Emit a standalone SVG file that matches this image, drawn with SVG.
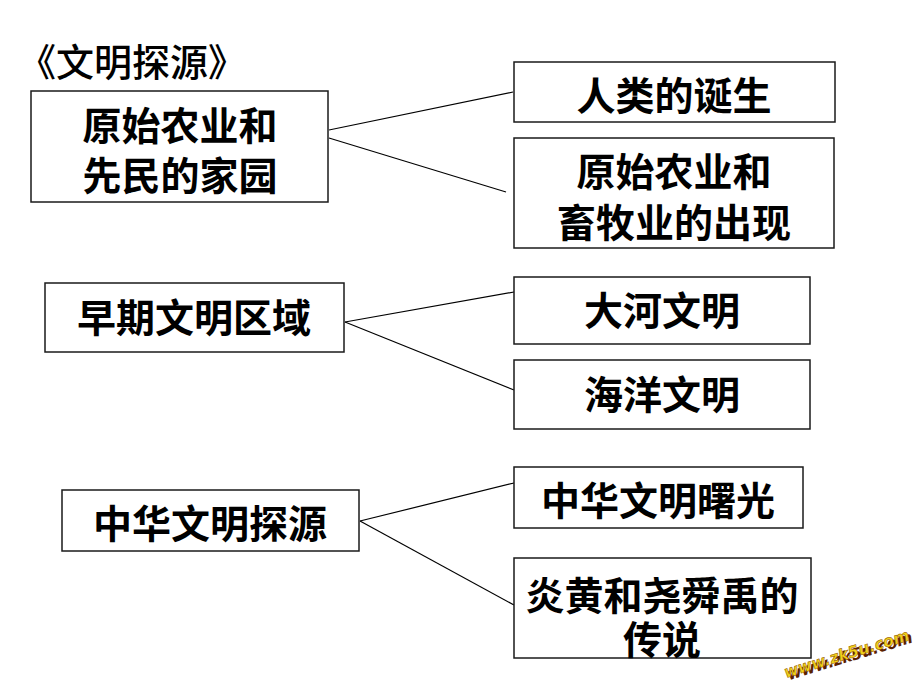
<svg xmlns="http://www.w3.org/2000/svg" width="920" height="690" viewBox="0 0 920 690">
<style>
.box{fill:#fff;stroke:#1a1a1a;stroke-width:1.5}
.t{font-family:"Noto Sans CJK SC","Noto Sans CJK TC",sans-serif;font-size:39px;font-weight:bold;fill:#000;text-anchor:middle;dominant-baseline:central}
.title{font-family:"Noto Sans CJK SC",sans-serif;font-size:38px;font-weight:500;fill:#000;dominant-baseline:central}
.c{stroke:#000;stroke-width:1.2;fill:none}
.wm{font-family:"DejaVu Sans",sans-serif;font-size:16px;font-weight:bold;font-style:italic}
</style>
<rect width="920" height="690" fill="#fff"/>
<text class="title" x="18" y="59">《文明探源》</text>
<g id="connectors">
<line class="c" x1="329" y1="130" x2="513" y2="92"/>
<line class="c" x1="329" y1="138" x2="506" y2="192"/>
<line class="c" x1="345" y1="322" x2="514" y2="292"/>
<line class="c" x1="345" y1="322" x2="514" y2="390"/>
<line class="c" x1="360" y1="521" x2="514" y2="483"/>
<line class="c" x1="360" y1="521" x2="514" y2="605"/>
</g>
<g id="n1"><rect class="box" x="31" y="91" width="297" height="111"/>
<text class="t" x="180" y="123">原始农业和</text><text class="t" x="180" y="173">先民的家园</text></g>
<g id="n2"><rect class="box" x="514" y="62" width="321" height="60"/>
<text class="t" x="674" y="93">人类的诞生</text></g>
<g id="n3"><rect class="box" x="514" y="138" width="320" height="110"/>
<text class="t" x="674" y="169">原始农业和</text><text class="t" x="674" y="220">畜牧业的出现</text></g>
<g id="n4"><rect class="box" x="45" y="283" width="299" height="69"/>
<text class="t" x="194" y="315">早期文明区域</text></g>
<g id="n5"><rect class="box" x="514" y="277" width="296" height="67"/>
<text class="t" x="662" y="308">大河文明</text></g>
<g id="n6"><rect class="box" x="514" y="360" width="296" height="69"/>
<text class="t" x="662" y="392">海洋文明</text></g>
<g id="n7"><rect class="box" x="62" y="490" width="297" height="61"/>
<text class="t" x="210" y="521">中华文明探源</text></g>
<g id="n8"><rect class="box" x="514" y="467" width="289" height="61"/>
<text class="t" x="658" y="498">中华文明曙光</text></g>
<g id="n9"><rect class="box" x="514" y="558" width="297" height="100"/>
<text class="t" x="662" y="593">炎黄和尧舜禹的</text><text class="t" x="662" y="637">传说</text></g>
<g id="watermark" transform="translate(786,678) rotate(-17)">
<text class="wm" x="2.5" y="3" fill="#5a2000" textLength="130" lengthAdjust="spacingAndGlyphs">www.zk5u.com</text>
<text class="wm" x="0" y="0" fill="#f2d21a" stroke="#8a4a00" stroke-width="0.5" textLength="130" lengthAdjust="spacingAndGlyphs">www.zk5u.com</text>
</g>
</svg>
